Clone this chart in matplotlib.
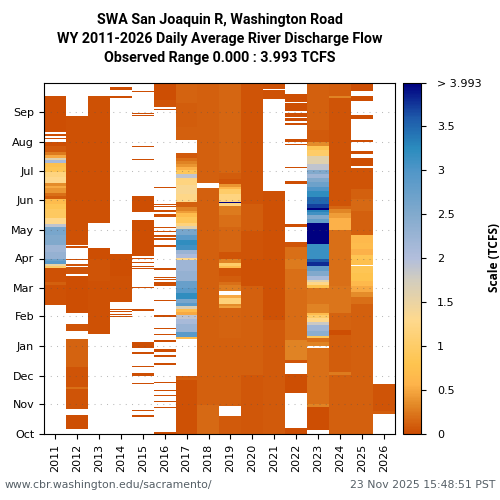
"""SWA San Joaquin R, Washington Road - daily river discharge heat map by water year."""

import matplotlib

matplotlib.use("Agg")
import matplotlib.pyplot as plt
import numpy as np
from matplotlib.colors import LinearSegmentedColormap

# water years shown as columns
YEARS = [2011, 2012, 2013, 2014, 2015, 2016, 2017, 2018, 2019, 2020, 2021, 2022, 2023, 2024, 2025, 2026]
MONTHS = ["Oct", "Nov", "Dec", "Jan", "Feb", "Mar", "Apr", "May", "Jun", "Jul", "Aug", "Sep"]
MONTH_START = [0, 31, 61, 92, 123, 152, 183, 213, 244, 274, 305, 336]
CBAR_TICKS = [0, 0.5, 1, 1.5, 2, 2.5, 3, 3.5, 3.993]
CBAR_LABELS = ["0", "0.5", "1", "1.5", "2", "2.5", "3", "3.5", "> 3.993"]
VMAX = 3.993

# (first day of water year, last day, TCFS)
WY2011 = [(135, 155, .04), (155, 159, .12), (159, 173, .04), (173, 175, 1.0), (175, 177, 1.5),
          (177, 180, 2.9), (180, 183, 2.7), (183, 190, 2.3), (190, 197, 2.2), (197, 207, 2.5), (207, 216, 2.6),
          (216, 219, 1.9), (219, 225, 1.3), (225, 235, .95), (235, 240, .85), (240, 245, .7), (245, 248, .1),
          (248, 251, .2), (251, 256, .4), (256, 259, .5), (259, 262, .35), (262, 268, 1.3), (268, 273, 1.2),
          (273, 278, .85), (278, 283, .75), (283, 286, 2.1), (286, 288, 1.6), (288, 291, .5), (291, 294, .25),
          (294, 300, .08), (300, 305, .03), (308, 309, .03), (311, 313, .03), (315, 352, .03)]
WY2012 = [(5, 20, .03), (26, 47, .05), (47, 49, .2), (49, 70, .06), (70, 99, .13), (107, 115, .05), (126, 165, .03),
          (167, 174, .05), (175, 177, .05), (181, 183, .03), (194, 196, .03), (197, 332, .04)]
WY2013 = [(104, 160, .04), (160, 182, .06), (182, 194, .03), (220, 352, .04)]
WY2014 = [(122, 123, .03), (124, 125, .03), (127, 128, .03), (129, 130, .03), (138, 165, .04), (165, 188, .03),
          (350, 352, .03), (359, 362, .03)]
WY2015 = [(18, 20, .03), (24, 25, .03), (52, 53, .03), (61, 64, .03), (70, 71, .03), (83, 85, .03), (90, 96, .03),
          (128, 130, .03), (152, 153, .03), (172, 173, .03), (174, 175, .03), (178, 179, .03), (182, 184, .03),
          (186, 223, .03), (231, 248, .03), (286, 287, .03), (299, 300, .03), (332, 333, .03), (334, 335, .03),
          (357, 358, .03)]
WY2016 = [(0, 2, .03), (27, 28, .03), (33, 34, .03), (40, 41, .03), (45, 46, .03), (53, 54, .03), (72, 74, .03),
          (80, 82, .03), (86, 89, .03), (96, 98, .03), (103, 104, .03), (110, 111, .03), (122, 124, .03),
          (139, 140, .03), (154, 158, .03), (161, 162, .03), (163, 164, .03), (171, 173, .03), (195, 197, .03),
          (202, 204, .03), (205, 208, .03), (211, 212, .03), (215, 216, .03), (226, 229, .03), (231, 234, .03),
          (237, 238, .03), (239, 240, .03), (256, 258, .03), (338, 339, .03), (341, 348, .06), (348, 366, .03)]
WY2017 = [(0, 56, .04), (56, 58, .12), (58, 61, .08), (99, 101, .7), (101, 106, 2.9), (106, 115, 2.25), (115, 120, 2.1),
          (120, 124, 1.9), (124, 127, .5), (127, 130, .7), (130, 133, 1.7), (133, 137, 2.9), (137, 141, 2.6),
          (141, 147, 3.2), (147, 152, 2.9), (152, 160, 2.75), (160, 170, 2.3), (170, 181, 2.2), (181, 184, 1.3),
          (184, 188, 2.05), (188, 192, 2.25), (192, 197, 3.1), (197, 202, 3.2), (202, 208, 2.9), (208, 214, 2.6),
          (214, 217, 1.6), (217, 220, 1.15), (220, 226, .9), (226, 230, .7), (230, 233, .45), (233, 237, .3),
          (237, 242, .12), (242, 250, 1.25), (250, 260, 1.35), (260, 267, 1.2), (267, 271, 1.9), (271, 275, .9),
          (275, 278, .55), (278, 282, .4), (282, 285, .3), (285, 288, .2), (288, 293, .08), (307, 320, .12),
          (320, 345, .1), (345, 366, .14)]
WY2018 = [(0, 30, .16), (30, 182, .12), (182, 257, .12), (262, 366, .12)]
WY2019 = [(0, 19, .08), (29, 100, .12), (100, 131, .14), (131, 133, .45), (133, 136, .35), (136, 142, 1.15),
          (142, 145, .5), (149, 155, .28), (155, 159, .2), (159, 165, .1), (165, 173, .05), (173, 175, .7),
          (175, 178, 1.0), (178, 182, .3), (182, 185, .05), (185, 190, .06), (190, 216, .15), (216, 228, .2),
          (228, 238, .25), (238, 241, 1.2), (241, 242, 3.99), (242, 250, 1.2), (250, 255, 1.0), (255, 258, .6),
          (258, 261, .4), (261, 266, .05), (266, 272, .1), (272, 366, .15)]
WY2020 = [(0, 62, .07), (62, 154, .12), (154, 182, .04), (182, 212, .06), (212, 240, .1), (240, 366, .05)]
WY2021 = [(0, 119, .08), (119, 253, .04), (349, 359, .04), (360, 366, .04)]
WY2022 = [(0, 6, .03), (43, 63, .03), (74, 77, .05), (77, 98, .3), (98, 150, .18), (150, 172, .2), (172, 182, .25),
          (182, 195, .2), (195, 200, .05), (216, 219, .03), (261, 264, .03), (277, 278, .03), (301, 302, .03),
          (304, 308, .03), (322, 324, .03), (326, 330, .03), (331, 335, .03), (337, 345, .03), (346, 355, .03)]
WY2023 = [(4, 28, .02), (28, 31, .3), (31, 90, .2), (92, 96, .3), (96, 100, .2), (100, 102, .9), (102, 107, 2.4),
          (107, 114, 2.2), (114, 117, 1.8), (117, 121, 1.25), (121, 124, 1.0), (124, 126, .7), (126, 136, .3),
          (136, 152, .22), (152, 155, .8), (155, 158, 1.25), (158, 161, 1.6), (161, 165, 2.1), (165, 170, 2.5),
          (170, 175, 2.8), (175, 179, 3.8), (179, 183, 3.6), (183, 198, 3.15), (198, 220, 3.99), (220, 224, 2.8),
          (224, 228, 2.5), (228, 231, 3.1), (231, 234, 3.3), (234, 236, 3.99), (236, 240, 3.7), (240, 247, 3.5),
          (247, 253, 3.2), (253, 258, 3.0), (258, 263, 2.7), (263, 267, 2.5), (267, 271, 2.2), (271, 275, 2.5),
          (275, 282, 1.9), (282, 290, 1.6), (290, 296, 1.0), (296, 300, .85), (300, 305, .35), (305, 317, .08),
          (317, 366, .11)]
WY2024 = [(0, 62, .12), (62, 65, .25), (65, 103, .1), (103, 108, .03), (108, 126, .13), (126, 154, .22),
          (154, 182, .2), (182, 213, .2), (213, 225, .55), (225, 230, .45), (230, 235, .32), (235, 238, .15),
          (238, 350, .06), (350, 352, .3), (352, 366, .1)]
WY2025 = [(0, 136, .12), (136, 143, .2), (143, 148, .35), (148, 154, .5), (154, 160, .65), (160, 168, .8),
          (168, 175, .85), (176, 182, .75), (182, 187, .85), (187, 193, .55), (193, 199, .7), (199, 207, .65),
          (207, 233, .12), (233, 245, .17), (245, 255, .12), (255, 277, .05), (279, 288, .03),
          (292, 295, .03), (304, 307, .03), (328, 333, .03), (347, 352, .03), (358, 366, .03)]
WY2026 = [(21, 24, .1), (24, 52, .05)]

# sampled from the colorbar, low to high
CMAP_COLORS = ["#cc4c02", "#e38a28", "#feb44b", "#fec44f", "#fed98e", "#d2cdbe", "#b2bedc",
               "#82aacd", "#5096c8", "#2b8cbe", "#1e5aaa", "#000080"]
CMAP_STOPS = [0, .33, .56, .8, 1.3, 1.75, 2.0, 2.5, 3.0, 3.25, 3.6, 3.993]

series = [WY2011, WY2012, WY2013, WY2014, WY2015, WY2016, WY2017, WY2018,
          WY2019, WY2020, WY2021, WY2022, WY2023, WY2024, WY2025, WY2026]
grid = np.full((366, len(YEARS)), np.nan)
for col, runs in enumerate(series):
    for start, end, val in runs:
        grid[start:end, col] = val

cmap = LinearSegmentedColormap.from_list(
    "cbr", [(s / VMAX, c) for s, c in zip(CMAP_STOPS, CMAP_COLORS)], N=256)
cmap.set_bad("white")

fig = plt.figure(figsize=(5, 5), dpi=100)
ax = fig.add_axes([44 / 500, 66 / 500, 351 / 500, 351 / 500])
cax = fig.add_axes([403 / 500, 66 / 500, 18 / 500, 351 / 500])

im = ax.imshow(grid, origin="lower", aspect="auto", cmap=cmap, vmin=0, vmax=VMAX,
               extent=(-0.5, len(YEARS) - 0.5, 0, 366), interpolation="nearest")
ax.set_xticks(range(len(YEARS)))
ax.set_xticklabels(YEARS, rotation=90, fontsize=8)
ax.set_yticks(MONTH_START)
ax.set_yticklabels(MONTHS, fontsize=8)
ax.grid(axis="y", color="#555555", linestyle=(0, (1, 5)), linewidth=0.75, alpha=0.4)
ax.set_axisbelow(False)

cb = fig.colorbar(im, cax=cax)
cb.set_ticks(CBAR_TICKS)
cb.set_ticklabels(CBAR_LABELS, fontsize=8)
cb.ax.tick_params(pad=8)
cb.outline.set_linewidth(0.8)
fig.text(494 / 500, 1 - 258 / 500, "Scale (TCFS)", rotation=90, ha="center", va="center",
         fontsize=8.6, fontweight="bold", family="Open Sans")

title = "SWA San Joaquin R, Washington Road\nWY 2011-2026 Daily Average River Discharge Flow\nObserved Range 0.000 : 3.993 TCFS"
fig.text(220 / 500, 1 - 39 / 500, title, ha="center", va="center", fontsize=10.3, fontweight="bold",
         family="Roboto", linespacing=1.42)
fig.text(5 / 500, 15.5 / 500, "www.cbr.washington.edu/sacramento/", fontsize=7.85, color="#555f66", va="center")
fig.text(495 / 500, 15.5 / 500, "23 Nov 2025 15:48:51 PST", fontsize=7.85, color="#555f66", va="center", ha="right")

fig.savefig("out.png", dpi=100)
